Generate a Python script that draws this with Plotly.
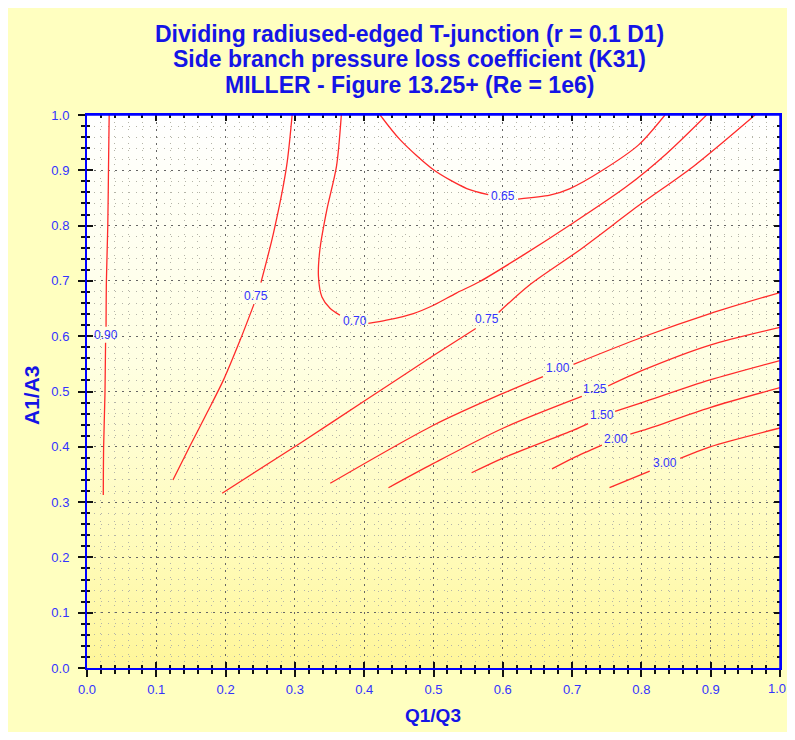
import base64
import plotly.graph_objects as go

# ---------------- data ----------------
title_lines = [
    "Dividing radiused-edged T-junction (r = 0.1 D1)",
    "Side branch pressure loss coefficient (K31)",
    "MILLER - Figure 13.25+ (Re = 1e6)",
]
x_title = "Q1/Q3"
y_title = "A1/A3"

levels = ["0.90", "0.75", "0.70", "0.65", "0.75", "1.00", "1.25", "1.50", "2.00", "3.00"]

c090_x = [0.032, 0.031, 0.030, 0.028, 0.0275, None, 0.0268, 0.026, 0.024, 0.0235]
c090_y = [1.000, 0.900, 0.800, 0.700, 0.617, None, 0.588, 0.500, 0.400, 0.313]

c075a_x = [0.296, 0.288, 0.269, 0.251, None, 0.241, 0.221, 0.197, 0.173, 0.148, 0.124]
c075a_y = [1.000, 0.907, 0.786, 0.697, None, 0.658, 0.593, 0.521, 0.461, 0.400, 0.340]

c070_x = [0.367, 0.360, 0.346, 0.336, 0.334, 0.339, 0.351, 0.365, None,
          0.406, 0.432, 0.471, 0.500, 0.533, 0.567, 0.630, 0.697, 0.779, 0.837, 0.894]
c070_y = [1.000, 0.907, 0.828, 0.756, 0.708, 0.671, 0.650, 0.638, None,
          0.623, 0.629, 0.641, 0.656, 0.678, 0.699, 0.747, 0.801, 0.871, 0.931, 1.000]

c065_x = [0.423, 0.452, 0.500, 0.548, 0.579, None, 0.622, 0.668, 0.697, 0.745, 0.796, 0.834]
c065_y = [1.000, 0.955, 0.901, 0.867, 0.856, None, 0.848, 0.855, 0.867, 0.901, 0.946, 1.000]

c075b_x = [0.195, 0.307, 0.404, 0.500, 0.561, None, 0.594, 0.639, 0.711, 0.798, 0.875, 0.964]
c075b_y = [0.316, 0.406, 0.486, 0.565, 0.614, None, 0.643, 0.693, 0.756, 0.838, 0.907, 1.000]

c100_x = [0.351, 0.500, 0.601, 0.658, None, 0.702, 0.803, 0.899, 1.000]
c100_y = [0.334, 0.439, 0.497, 0.527, None, 0.549, 0.599, 0.641, 0.679]

c125_x = [0.435, 0.500, 0.601, 0.714, None, 0.752, 0.803, 0.899, 1.000]
c125_y = [0.326, 0.370, 0.434, 0.491, None, 0.510, 0.539, 0.584, 0.616]

c150_x = [0.555, 0.601, 0.702, 0.723, None, 0.762, 0.803, 0.899, 1.000]
c150_y = [0.353, 0.380, 0.430, 0.442, None, 0.464, 0.481, 0.521, 0.556]

c200_x = [0.671, 0.702, 0.743, None, 0.784, 0.803, 0.899, 1.000]
c200_y = [0.360, 0.380, 0.403, None, 0.423, 0.430, 0.471, 0.507]

c300_x = [0.754, 0.812, None, 0.856, 0.899, 1.000]
c300_y = [0.326, 0.356, None, 0.379, 0.400, 0.434]

contours_x = [c090_x, c075a_x, c070_x, c065_x, c075b_x, c100_x, c125_x, c150_x, c200_x, c300_x]
contours_y = [c090_y, c075a_y, c070_y, c065_y, c075b_y, c100_y, c125_y, c150_y, c200_y, c300_y]

label_x = [0.0275, 0.244, 0.387, 0.600, 0.577, 0.680, 0.733, 0.743, 0.763, 0.834]
label_y = [0.602, 0.673, 0.628, 0.853, 0.632, 0.542, 0.504, 0.457, 0.415, 0.370]

x_ticks = [0.0, 0.1, 0.2, 0.3, 0.4, 0.5, 0.6, 0.7, 0.8, 0.9, 1.0]
y_ticks = [0.0, 0.1, 0.2, 0.3, 0.4, 0.5, 0.6, 0.7, 0.8, 0.9, 1.0]

# ---------------- styling ----------------
BLUE_TXT = "#3333FF"
TITLE_BLUE = "#1414E6"
AXIS_BLUE = "#0000FF"
RED = "#FF2A2A"
PAPER = "#FFFFC0"
OFF = 8                      # default page body margin (all sides)
W, H = 795 - 2 * OFF, 740 - 2 * OFF
L, T = 87 - OFF, 115 - OFF
PW, PH = 693, 553
R, B = W - L - PW, H - T - PH

def px_to_paper_x(px):       # page pixel -> paper fraction
    return (px - OFF - L) / PW

def py_to_paper_y(py):
    return (T + PH - (py - OFF)) / PH

fig = go.Figure()

for xs, ys in zip(contours_x, contours_y):
    fig.add_trace(go.Scatter(
        x=xs, y=ys, mode="lines",
        line=dict(color=RED, width=1.3, shape="spline", smoothing=0.8),
        connectgaps=False, hoverinfo="skip", showlegend=False,
    ))

# empty trace on the overlay axes (top / right axes with inside ticks)
fig.add_trace(go.Scatter(x=[], y=[], xaxis="x2", yaxis="y2", mode="lines",
                         showlegend=False, hoverinfo="skip"))

for lx, ly, txt in zip(label_x, label_y, levels):
    fig.add_annotation(x=lx, y=ly, xref="x", yref="y", text=txt, showarrow=False,
                       font=dict(family="Liberation Sans, Arial", size=12, color=BLUE_TXT))

title_py = [34, 59, 85]
for line, py in zip(title_lines, title_py):
    fig.add_annotation(x=px_to_paper_x(409), y=py_to_paper_y(py), xref="paper", yref="paper",
                       text="<b>" + line + "</b>", showarrow=False, xanchor="center", yanchor="middle",
                       font=dict(family="Liberation Sans, Arial", size=23, color=TITLE_BLUE))

fig.add_annotation(x=px_to_paper_x(433), y=py_to_paper_y(715), xref="paper", yref="paper",
                   text="<b>" + x_title + "</b>", showarrow=False, xanchor="center", yanchor="middle",
                   font=dict(family="Liberation Sans, Arial", size=19, color=TITLE_BLUE))
fig.add_annotation(x=px_to_paper_x(31), y=py_to_paper_y(395), xref="paper", yref="paper",
                   text="<b>" + y_title + "</b>", showarrow=False, textangle=-90,
                   xanchor="center", yanchor="middle",
                   font=dict(family="Liberation Sans, Arial", size=21, color=TITLE_BLUE))

# last x tick label placed as text so it is not dropped at the page edge
fig.add_annotation(x=x_ticks[-1], y=py_to_paper_y(688), xref="x", yref="paper",
                   text=f"{x_ticks[-1]:.1f}", showarrow=False, xanchor="right", xshift=8,
                   yanchor="middle", font=dict(family="Liberation Sans, Arial", size=13, color=BLUE_TXT))

# gradient plot background
svg = ('<svg xmlns="http://www.w3.org/2000/svg" width="100" height="100" preserveAspectRatio="none">'
       '<defs><linearGradient id="g" x1="0" y1="0" x2="0" y2="1">'
       '<stop offset="0" stop-color="#FFFFFF"/>'
       '<stop offset="0.45" stop-color="#FFFFE2"/>'
       '<stop offset="0.8" stop-color="#FFFBB8"/>'
       '<stop offset="1" stop-color="#FFF69A"/>'
       '</linearGradient></defs><rect width="100" height="100" fill="url(#g)"/></svg>')
src = "data:image/svg+xml;base64," + base64.b64encode(svg.encode()).decode()
fig.add_layout_image(source=src, xref="paper", yref="paper", x=0, y=1, sizex=1, sizey=1,
                     xanchor="left", yanchor="top", sizing="stretch", layer="below")

# explicit right / top frame lines of the plot area
fig.add_shape(type="line", xref="paper", yref="paper", x0=1, x1=1, y0=0, y1=1,
              line=dict(color=AXIS_BLUE, width=1.5), layer="above")
fig.add_shape(type="line", xref="paper", yref="paper", x0=0, x1=1, y0=1, y1=1,
              line=dict(color=AXIS_BLUE, width=1.5), layer="above")

tickfont = dict(family="Liberation Sans, Arial", size=13, color=BLUE_TXT)
common_main = dict(
    range=[0, 1],
    ticks="outside", ticklen=7, tickwidth=2, tickcolor="#111111",
    showline=True, linecolor=AXIS_BLUE, linewidth=2, mirror=False,
    showgrid=True, gridcolor="#666666", griddash="2px,5px", gridwidth=1,
    zeroline=False, tickfont=tickfont,
    minor=dict(dtick=0.02, tick0=0, ticks="outside", ticklen=4, tickwidth=1.5, tickcolor="#111111",
               showgrid=True, gridcolor="#B4B4A8", griddash="1px,6px", gridwidth=1),
    fixedrange=True,
)
common_overlay = dict(
    range=[0, 1], dtick=0.1, ticks="inside", ticklen=6, tickwidth=2, tickcolor="#111111",
    showline=True, linecolor=AXIS_BLUE, linewidth=1.5, mirror="ticks",
    showgrid=False, zeroline=False, showticklabels=False,
    minor=dict(dtick=0.02, tick0=0, ticks="inside", ticklen=3, tickwidth=1.5, tickcolor="#111111",
               showgrid=False),
    fixedrange=True,
)

fig.update_layout(
    width=W, height=H, autosize=False,
    margin=dict(l=L, r=R, t=T, b=B, pad=0),
    paper_bgcolor=PAPER, plot_bgcolor="rgba(0,0,0,0)",
    showlegend=False,
    xaxis=dict(**common_main, tickvals=x_ticks,
               ticktext=[f"{v:.1f}" for v in x_ticks[:-1]] + [""],
               ticklabelstandoff=1),
    yaxis=dict(**common_main, tickvals=y_ticks, ticktext=[f"{v:.1f}" for v in y_ticks],
               ticklabelstandoff=6),
    xaxis2=dict(**common_overlay, overlaying="x", anchor="y2", side="top"),
    yaxis2=dict(**common_overlay, overlaying="y", anchor="x2", side="right"),
)

fig.write_html("out.html")
